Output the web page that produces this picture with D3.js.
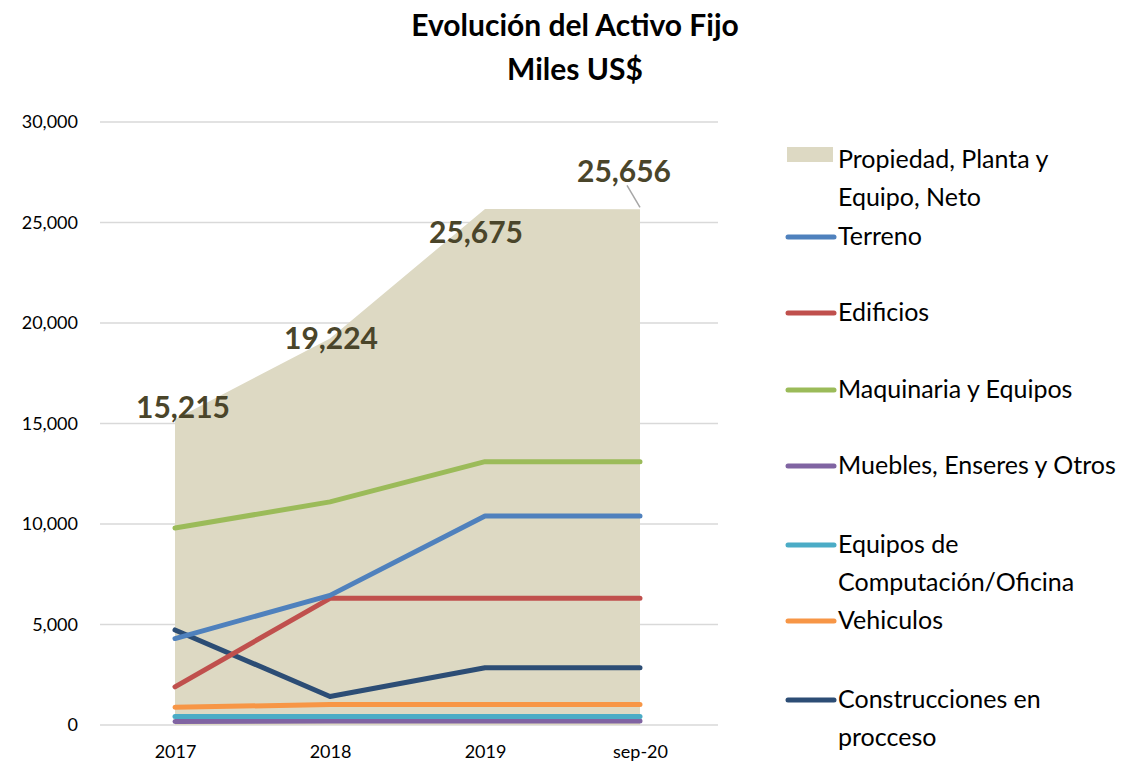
<!DOCTYPE html>
<html>
<head>
<meta charset="utf-8">
<script src="https://cdnjs.cloudflare.com/ajax/libs/d3/7.8.5/d3.min.js"></script>
<style>
body { margin: 0; background: #fff; }
svg text { font-family: Lato, "Open Sans", sans-serif; }
</style>
</head>
<body>
<svg id="chart" width="1132" height="766"></svg>
<script>
// categories and series (miles US$)
var categories = ["2017", "2018", "2019", "sep-20"];
var propiedad = [15215, 19224, 25675, 25656];
var terreno = [4300, 6450, 10400, 10400];
var edificios = [1900, 6300, 6300, 6300];
var maquinaria = [9800, 11100, 13100, 13100];
var muebles = [180, 200, 200, 200];
var computacion = [420, 420, 420, 420];
var vehiculos = [880, 1020, 1020, 1020];
var construcciones = [4730, 1420, 2850, 2850];
var yTicks = [0, 5000, 10000, 15000, 20000, 25000, 30000];

var lineSeries = [
	{name: ["Terreno"], values: terreno, color: "#4f81bd"},
	{name: ["Edificios"], values: edificios, color: "#c0504d"},
	{name: ["Maquinaria y Equipos"], values: maquinaria, color: "#9bbb59"},
	{name: ["Muebles, Enseres y Otros"], values: muebles, color: "#8064a2"},
	{name: ["Equipos de", "Computación/Oficina"], values: computacion, color: "#4bacc6"},
	{name: ["Vehiculos"], values: vehiculos, color: "#f79646"},
	{name: ["Construcciones en", "procceso"], values: construcciones, color: "#2c4d75"}
];
// drawing order (back to front)
var drawOrder = [3, 4, 5, 6, 1, 0, 2];

var svg = d3.select("#chart");

var x = d3.scalePoint()
	.domain(categories)
	.range([175, 640]);

var y = d3.scaleLinear()
	.domain([0, 30000])
	.range([725, 122]);

// Title
svg.append("text")
	.attr("x", 575).attr("y", 36)
	.attr("text-anchor", "middle")
	.style("font-size", "30px").style("font-weight", "bold")
	.text("Evolución del Activo Fijo");
svg.append("text")
	.attr("x", 575).attr("y", 80)
	.attr("text-anchor", "middle")
	.style("font-size", "30px").style("font-weight", "bold")
	.text("Miles US$");

// Gridlines
svg.append("g")
	.selectAll("line")
	.data(yTicks)
	.join("line")
	.attr("x1", 100).attr("x2", 718)
	.attr("y1", function(d) { return y(d); })
	.attr("y2", function(d) { return y(d); })
	.attr("stroke", "#d9d9d9")
	.attr("stroke-width", 1.5);

// Y axis
var yAxis = svg.append("g")
	.attr("transform", "translate(81,0)")
	.call(d3.axisLeft(y).tickValues(yTicks).tickSize(0).tickFormat(d3.format(",")));
yAxis.select(".domain").remove();
yAxis.selectAll("text")
	.style("font-size", "18px").attr("fill", "#000");

// X axis
var xAxis = svg.append("g")
	.attr("transform", "translate(0,749)")
	.call(d3.axisBottom(x).tickSize(0));
xAxis.select(".domain").remove();
xAxis.selectAll("text")
	.style("font-size", "18px").attr("fill", "#000").attr("dy", "0.35em");

// Area: Propiedad, Planta y Equipo, Neto
var area = d3.area()
	.x(function(d, i) { return x(categories[i]); })
	.y0(y(0))
	.y1(function(d) { return y(d); });

svg.append("path")
	.datum(propiedad)
	.attr("d", area)
	.attr("fill", "#ddd9c3");

// Lines
var line = d3.line()
	.x(function(d, i) { return x(categories[i]); })
	.y(function(d) { return y(d); });

svg.append("g")
	.selectAll("path")
	.data(drawOrder.map(function(i) { return lineSeries[i]; }))
	.join("path")
	.attr("d", function(d) { return line(d.values); })
	.attr("fill", "none")
	.attr("stroke", function(d) { return d.color; })
	.attr("stroke-width", 5)
	.attr("stroke-linecap", "round")
	.attr("stroke-linejoin", "round");

// Data labels for the area
var labelOffsets = [[8, -12], [1, 0], [-9, 24], [-16, -38]];
var fmt = d3.format(",");
svg.append("g")
	.selectAll("text")
	.data(propiedad)
	.join("text")
	.attr("x", function(d, i) { return x(categories[i]) + labelOffsets[i][0]; })
	.attr("y", function(d, i) { return y(d) + labelOffsets[i][1]; })
	.attr("text-anchor", "middle")
	.attr("dy", "0.35em")
	.style("font-size", "30px").style("font-weight", "bold")
	.attr("fill", "#4a452a")
	.text(function(d) { return fmt(d); });

// leader line for last label
svg.append("line")
	.attr("x1", x("sep-20") - 13).attr("y1", y(propiedad[3]) - 24)
	.attr("x2", x("sep-20")).attr("y2", y(propiedad[3]) - 2)
	.attr("stroke", "#a6a6a6").attr("stroke-width", 1.5);

// Legend
var legend = svg.append("g");
legend.append("rect")
	.attr("x", 787).attr("y", 147)
	.attr("width", 46).attr("height", 15)
	.attr("fill", "#ddd9c3");
legend.append("text")
	.attr("x", 838).attr("y", 168)
	.style("font-size", "25px")
	.selectAll("tspan")
	.data(["Propiedad, Planta y", "Equipo, Neto"])
	.join("tspan")
	.attr("x", 838)
	.attr("dy", function(d, i) { return i ? 38 : 0; })
	.text(function(d) { return d; });

var legendY = [237, 313, 390, 466, 545, 621, 700];
var items = legend.selectAll("g.item")
	.data(lineSeries)
	.join("g")
	.attr("class", "item")
	.attr("transform", function(d, i) { return "translate(0," + legendY[i] + ")"; });

items.append("line")
	.attr("x1", 788).attr("x2", 834)
	.attr("y1", 0).attr("y2", 0)
	.attr("stroke", function(d) { return d.color; })
	.attr("stroke-width", 5)
	.attr("stroke-linecap", "round");

items.append("text")
	.style("font-size", "25px")
	.attr("y", 8)
	.selectAll("tspan")
	.data(function(d) { return d.name; })
	.join("tspan")
	.attr("x", 838)
	.attr("dy", function(d, i) { return i ? 38 : 0; })
	.text(function(d) { return d; });
</script>
</body>
</html>
